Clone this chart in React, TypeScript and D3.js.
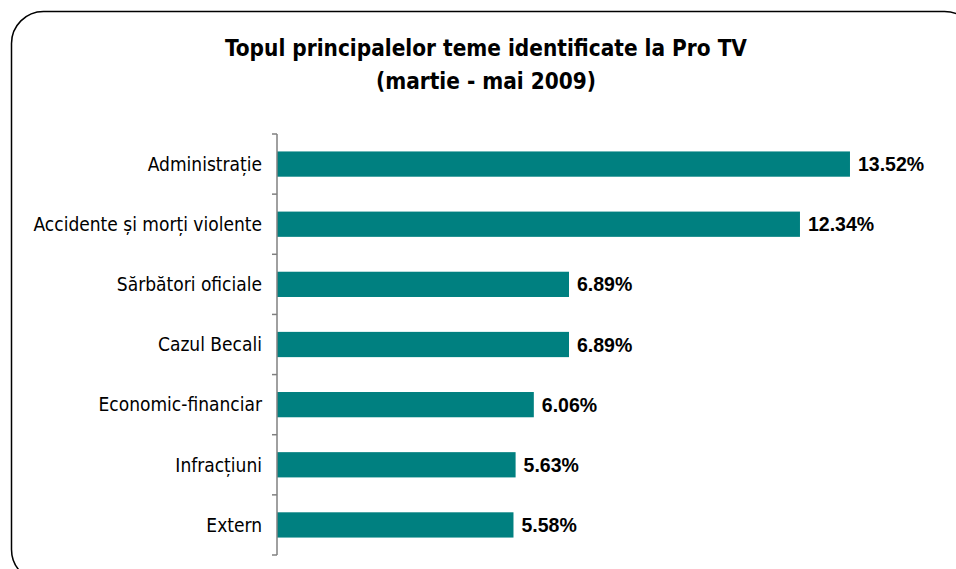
import React, { useEffect, useRef } from 'react';
import * as d3 from 'd3';

const categories = [
    'Administrație',
    'Accidente și morți violente',
    'Sărbători oficiale',
    'Cazul Becali',
    'Economic-financiar',
    'Infracțiuni',
    'Extern',
];
const values = [13.52, 12.34, 6.89, 6.89, 6.06, 5.63, 5.58];
const titleLines = ['Topul principalelor teme identificate la Pro TV', '(martie - mai 2009)'];

function App() {
    const svgRef = useRef<SVGSVGElement>(null);

    useEffect(() => {
        const w = 956;
        const h = 569;
        const left = 277;
        const top = 134;
        const bottom = 555;

        const svg = d3.select(svgRef.current)
            .attr('width', w)
            .attr('height', h)
            .style('position', 'absolute')
            .style('left', 0)
            .style('top', 0)
            .style('background', '#fff');
        svg.selectAll('*').remove();

        // frame
        svg.append('rect')
            .attr('x', 11.5)
            .attr('y', 11.5)
            .attr('width', 965)
            .attr('height', 570)
            .attr('rx', 32)
            .attr('fill', 'none')
            .attr('stroke', '#000')
            .attr('stroke-width', 1.5);

        svg.append('g')
            .selectAll('text')
            .data(titleLines)
            .join('text')
            .attr('x', 486)
            .attr('y', (d, i) => 56 + i * 33)
            .attr('text-anchor', 'middle')
            .style('font-family', '"DejaVu Sans Condensed", "DejaVu Sans", sans-serif')
            .style('font-weight', 'bold')
            .style('font-size', '22.4px')
            .text(d => d);

        const y = d3.scaleBand().domain(categories).range([top, bottom]).paddingInner(0.58).paddingOuter(0.29);
        const x = d3.scaleLinear().domain([0, 16]).range([left, left + 16 * 42.38]);

        const data = categories.map((c, i) => ({ c, v: values[i] }));

        svg.append('g')
            .selectAll('rect')
            .data(data)
            .join('rect')
            .attr('x', x(0))
            .attr('y', d => y(d.c)!)
            .attr('width', d => x(d.v) - x(0))
            .attr('height', y.bandwidth())
            .attr('fill', '#008080');

        // axis
        const axis = svg.append('g').attr('stroke', '#808080').attr('stroke-width', 1.5);
        axis.append('line')
            .attr('x1', left).attr('x2', left)
            .attr('y1', top).attr('y2', bottom);
        const step = (bottom - top) / categories.length;
        axis.selectAll('line.tick')
            .data(d3.range(categories.length + 1))
            .join('line')
            .attr('class', 'tick')
            .attr('x1', left - 5).attr('x2', left)
            .attr('y1', d => top + d * step).attr('y2', d => top + d * step);

        svg.append('g')
            .selectAll('text')
            .data(data)
            .join('text')
            .attr('x', 262)
            .attr('y', d => y(d.c)! + y.bandwidth() / 2)
            .attr('dy', '0.36em')
            .attr('text-anchor', 'end')
            .style('font-family', '"DejaVu Sans Condensed", "DejaVu Sans", sans-serif')
            .style('font-size', '19px')
            .text(d => d.c);

        svg.append('g')
            .selectAll('text')
            .data(data)
            .join('text')
            .attr('x', d => x(d.v) + 8)
            .attr('y', d => y(d.c)! + y.bandwidth() / 2)
            .attr('dy', '0.36em')
            .style('font-family', '"Liberation Sans", Arial, sans-serif')
            .style('font-weight', 'bold')
            .style('font-size', '19.5px')
            .text(d => d.v.toFixed(2) + '%');
    }, []);

    return <svg ref={svgRef}></svg>;
}

export default App;
